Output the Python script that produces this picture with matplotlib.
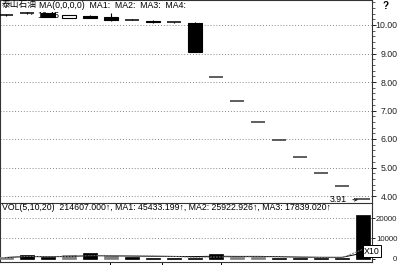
import matplotlib
matplotlib.use("Agg")
import matplotlib.pyplot as plt
import numpy as np
import pandas as pd

plt.rcParams['font.family'] = ['Liberation Sans', 'Noto Sans CJK SC', 'DejaVu Sans']

# ---- data ----
opens  = [10.35, 10.41, 10.41, 10.26, 10.33, 10.27, 10.18, 10.15, 10.09, 10.06, 8.16, 7.35, 6.61, 5.95, 5.36, 4.82, 4.34, 3.91]
closes = [10.35, 10.41, 10.29, 10.35, 10.26, 10.18, 10.18, 10.09, 10.09, 9.07, 8.16, 7.35, 6.61, 5.95, 5.36, 4.82, 4.34, 3.91]
highs  = [10.37, 10.45, 10.41, 10.35, 10.36, 10.41, 10.20, 10.16, 10.11, 10.09, 8.16, 7.35, 6.61, 5.95, 5.36, 4.82, 4.34, 3.91]
lows   = [10.33, 10.40, 10.29, 10.26, 10.24, 10.14, 10.16, 10.08, 10.07, 9.06, 8.16, 7.35, 6.61, 5.95, 5.36, 4.82, 4.34, 3.91]
volumes = [500, 1500, 600, 1500, 2800, 1000, 500, 400, 400, 400, 2000, 700, 700, 300, 300, 300, 300, 21461]
vol_gray = [True, False, False, True, False, True, False, False, False, False, False, True, True, False, False, False, False, False]
price_ticks = [10, 9, 8, 7, 6, 5, 4]
vol_ticks = [0, 10000, 20000]
title_name = "泰山石油"
ma_header = "MA(0,0,0,0)  MA1:  MA2:  MA3:  MA4:"
vol_header = "VOL(5,10,20)  214607.000↑, MA1: 45433.199↑, MA2: 25922.926↑, MA3: 17839.020↑"
high_label = "10.45"
low_label = "3.91"

n = len(opens)
x = np.arange(n)

fig = plt.figure(figsize=(4.0, 2.65), dpi=100)
W, H = 400.0, 265.0
ax = fig.add_axes([0, (H - 203) / H, 372 / W, 203 / H])
axv = fig.add_axes([0, (H - 262) / H, 372 / W, 59 / H], sharex=ax)

fs = 6.3
grid_kw = dict(color='#888888', lw=0.7, ls=(0, (1, 2)))

# price panel
for p in price_ticks:
    ax.axhline(p, zorder=0, **grid_kw)

w = 0.68
for i in range(n):
    o, c, h, l = opens[i], closes[i], highs[i], lows[i]
    if h > l:
        ax.vlines(x[i], l, h, color='black', lw=0.8, zorder=3)
    if abs(c - o) < 0.015:
        col = 'black' if i < 10 else '#333333'
        ax.hlines(o, x[i] - w / 2, x[i] + w / 2, color=col, lw=1.1, zorder=4)
    elif c > o:
        ax.bar(x[i], c - o, bottom=o, width=w, facecolor='white', edgecolor='black', lw=0.8, zorder=4)
    else:
        ax.bar(x[i], o - c, bottom=c, width=w, facecolor='black', edgecolor='black', lw=0.8, zorder=4)

ihi = int(np.argmax(highs))
ax.annotate(high_label, xy=(x[ihi] + 0.2, highs[ihi] - 0.07), xytext=(x[ihi] + 0.5, highs[ihi] - 0.1),
            fontsize=fs, va='center', ha='left', zorder=2,
            arrowprops=dict(arrowstyle='-', color='black', lw=0.6))
ilo = int(np.argmin(lows))
ax.annotate(low_label, xy=(x[ilo] - 0.1, lows[ilo] - 0.04), xytext=(x[ilo] - 0.75, lows[ilo] - 0.04),
            fontsize=fs, va='center', ha='right', zorder=2,
            arrowprops=dict(arrowstyle='->', color='black', lw=0.6, mutation_scale=5))

ax.set_ylim(10 - 178 / 28.5, 10 + 25 / 28.5)
ax.set_xlim(-6 / 21, 366 / 21)
ax.yaxis.tick_right()
ax.set_yticks(price_ticks)
ax.set_yticklabels([f"{p:.2f}" for p in price_ticks], fontsize=fs, ha='right')
ax.set_yticks(np.arange(4, 10.81, 0.2), minor=True)
ax.tick_params(axis='y', which='major', length=3, width=0.7, pad=15.3, colors='#222222')
ax.tick_params(axis='y', which='minor', length=1.8, width=0.6, colors='#444444')
ax.tick_params(axis='x', which='both', bottom=False, labelbottom=False)
for s in ax.spines.values():
    s.set_linewidth(0.8)
    s.set_color('#333333')
ax.spines['bottom'].set_visible(False)

ax.text(0.005, 1 - 5 / 203, title_name, transform=ax.transAxes, fontsize=fs, va='center', ha='left')
ax.text(39 / 372, 1 - 5 / 203, ma_header, transform=ax.transAxes, fontsize=fs, va='center', ha='left')
fig.text(386 / W, 1 - 6 / H, "?", fontsize=7, fontweight='bold', ha='center', va='center')

# volume panel
for v in vol_ticks[1:]:
    axv.axhline(v, zorder=0, **grid_kw)
vcolors = ['#808080' if g else 'black' for g in vol_gray]
axv.bar(x, volumes, width=w, color=vcolors, edgecolor=vcolors, lw=0.5, zorder=3)
vs = pd.Series(volumes, dtype=float)
ma5 = vs.rolling(5, min_periods=1).mean()
ma10 = vs.rolling(10, min_periods=1).mean()
axv.plot(x, ma10, color='black', lw=0.7, zorder=4)
axv.plot(x, ma5, color='#777777', lw=0.7, ls=(0, (2, 1)), zorder=4)

axv.set_ylim(-3.5 * 494, 55.5 * 494)
axv.yaxis.tick_right()
axv.set_yticks(vol_ticks)
axv.set_yticklabels([str(v) for v in vol_ticks], fontsize=5.7, ha='right')
axv.tick_params(axis='y', length=2, width=0.7, pad=16.3, colors='#222222')
axv.set_xticks([4.95, 7.43, 10.24])
axv.tick_params(axis='x', length=3, width=0.7, labelbottom=False, direction='out')
for s in axv.spines.values():
    s.set_linewidth(0.8)
    s.set_color('#333333')
axv.text(0.005, 1 - 5 / 59, vol_header, transform=axv.transAxes, fontsize=fs, va='center', ha='left')
fig.text(372 / W, 1 - 251 / H, "X10", fontsize=fs, ha='center', va='center',
         bbox=dict(boxstyle='square,pad=0.15', facecolor='white', edgecolor='black', lw=0.7))

fig.savefig("out.png", dpi=100)
